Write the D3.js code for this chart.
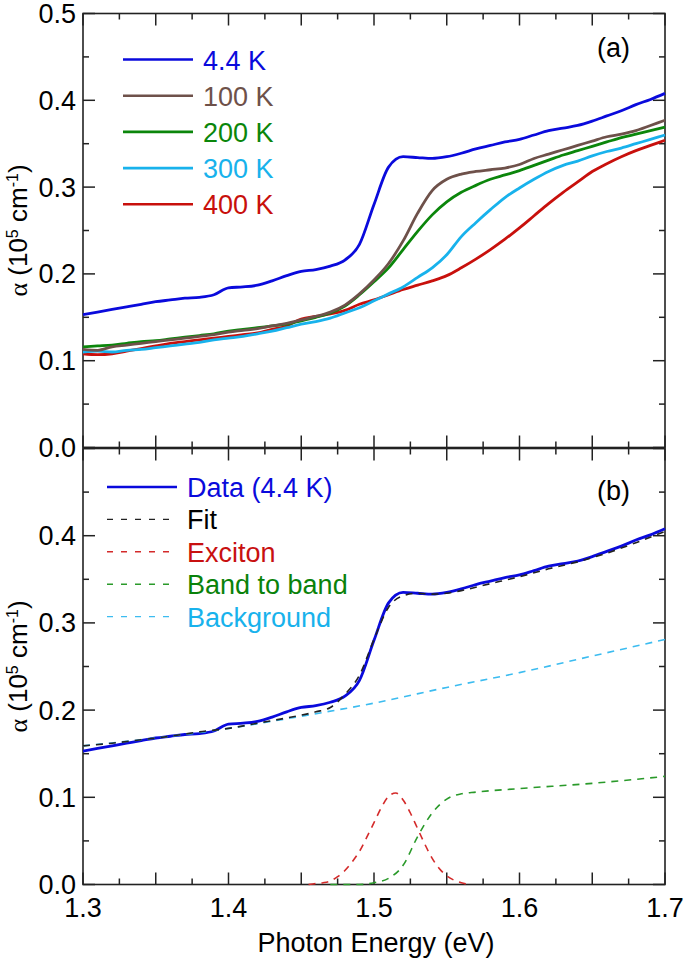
<!DOCTYPE html>
<html>
<head>
<meta charset="utf-8">
<script src="https://cdn.jsdelivr.net/npm/d3@7"></script>
<style>
  html, body { margin: 0; padding: 0; background: #fff; }
  svg { display: block; font-family: "Liberation Sans", Arial, Helvetica, sans-serif; }
</style>
</head>
<body>
<svg id="chart" width="685" height="960"></svg>
<script>
// ---------------- DATA ----------------
const energy = [1.30,1.31,1.32,1.33,1.34,1.35,1.36,1.37,1.38,1.39,1.40,1.41,1.42,1.43,1.44,1.45,1.46,1.47,1.48,1.49,
                1.50,1.51,1.52,1.53,1.54,1.55,1.56,1.57,1.58,1.59,1.60,1.61,1.62,1.63,1.64,1.65,1.66,1.67,1.68,1.69,1.70];

const alpha4K   = [.153,.156,.159,.162,.165,.168,.170,.172,.173,.176,.184,.185,.187,.192,.198,.203,.205,.209,.216,.234,
                   .280,.323,.335,.334,.333,.335,.339,.344,.348,.352,.355,.360,.365,.368,.371,.376,.382,.388,.395,.401,.408];
const alpha100K = [.113,.112,.116,.118,.120,.122,.124,.126,.128,.130,.133,.135,.137,.140,.143,.147,.151,.156,.164,.177,
                   .193,.212,.238,.270,.296,.309,.315,.318,.320,.322,.326,.333,.338,.343,.348,.353,.358,.361,.365,.371,.377];
const alpha200K = [.116,.117,.118,.120,.122,.123,.125,.127,.129,.131,.134,.136,.138,.140,.142,.146,.150,.155,.163,.176,
                   .191,.207,.228,.249,.268,.283,.294,.302,.309,.314,.319,.325,.331,.337,.342,.347,.352,.357,.361,.365,.369];
const alpha300K = [.110,.111,.110,.112,.113,.115,.117,.119,.121,.124,.126,.128,.131,.134,.138,.142,.145,.149,.155,.161,
                   .169,.177,.185,.196,.207,.222,.243,.259,.274,.288,.299,.309,.318,.325,.330,.336,.341,.345,.350,.355,.360];
const alpha400K = [.108,.107,.108,.111,.114,.117,.120,.122,.124,.126,.128,.130,.132,.136,.140,.148,.151,.154,.158,.165,
                   .170,.176,.182,.187,.192,.198,.207,.217,.228,.240,.253,.267,.281,.294,.306,.318,.327,.335,.342,.348,.354];

const seriesNames  = ["4.4 K","100 K","200 K","300 K","400 K"];
const seriesColors = ["#0a0adc","#6e514a","#0b860b","#18b2ec","#c8100c"];

// panel (b) fit components
const fitEnergy = [1.30,1.32,1.34,1.36,1.38,1.40,1.42,1.44,1.46,1.47,1.48,1.49,1.50,1.51,1.52,1.53,1.54,1.55,1.56,1.58,1.60,1.62,1.64,1.66,1.68,1.70];
const fitValues = [.159,.162,.166,.170,.175,.179,.185,.191,.198,.203,.218,.240,.281,.318,.331,.334,.333,.334,.337,.345,.353,.362,.370,.380,.392,.405];

const excEnergy = [1.455,1.46,1.465,1.47,1.475,1.48,1.485,1.49,1.495,1.50,1.505,1.51,1.515,1.52,1.525,1.53,1.535,1.54,1.545,1.55,1.555,1.56,1.565];
const excValues = [.000,.001,.002,.004,.009,.016,.026,.038,.054,.071,.088,.101,.105,.097,.082,.064,.046,.030,.018,.010,.005,.002,.000];

const b2bEnergy = [1.47,1.48,1.49,1.50,1.51,1.52,1.53,1.54,1.55,1.56,1.57,1.60,1.65,1.70];
const b2bValues = [.000,.000,.000,.002,.007,.022,.055,.082,.098,.104,.106,.110,.116,.124];

const bgEnergy = [1.30,1.35,1.40,1.45,1.50,1.55,1.60,1.65,1.70];
const bgValues = [.159,.168,.179,.193,.208,.226,.243,.262,.281];

const legendB = ["Data (4.4 K)","Fit","Exciton","Band to band","Background"];
const legendBLine = ["#0a0adc","#222222","#d42a2a","#2a9a2a","#3cbcf0"];
const legendBText = ["#0a0adc","#000000","#c81010","#0a820a","#18b2ec"];

const xTickLabels = [1.3,1.4,1.5,1.6,1.7];
const yTickLabelsTop = [0.0,0.1,0.2,0.3,0.4,0.5];
const yTickLabelsBot = [0.0,0.1,0.2,0.3,0.4];

// ---------------- LAYOUT ----------------
const svg = d3.select("#chart");
const FS = 27;
const x = d3.scaleLinear().domain([1.3,1.7]).range([83,665]);
const yTop = d3.scaleLinear().domain([0,0.5]).range([447.5,13.5]);
const yBot = d3.scaleLinear().domain([0,0.5]).range([884.5,448.5]);
const frameColor = "#222";

function drawFrame(y, labels) {
  const g = svg.append("g");
  const [y0, y1] = y.range();
  const [x0, x1] = x.range();
  const xMajor = d3.range(1.3, 1.7001, 0.05);
  const xMinor = d3.range(1.325, 1.7, 0.05);
  const yMajor = d3.range(0, 0.5001, 0.1);
  const yMinor = d3.range(0.05, 0.5, 0.1);
  const L = 12, S = 6;
  const tk = [];
  xMajor.forEach(v => { tk.push([x(v), y0, x(v), y0 - L]); tk.push([x(v), y1, x(v), y1 + L]); });
  xMinor.forEach(v => { tk.push([x(v), y0, x(v), y0 - S]); tk.push([x(v), y1, x(v), y1 + S]); });
  yMajor.forEach(v => { tk.push([x0, y(v), x0 + L, y(v)]); tk.push([x1, y(v), x1 - L, y(v)]); });
  yMinor.forEach(v => { tk.push([x0, y(v), x0 + S, y(v)]); tk.push([x1, y(v), x1 - S, y(v)]); });
  g.selectAll("line.tick").data(tk).join("line")
    .attr("x1", d => d[0]).attr("y1", d => d[1]).attr("x2", d => d[2]).attr("y2", d => d[3])
    .attr("stroke", frameColor).attr("stroke-width", 1.5);
  g.append("rect").attr("x", x0).attr("y", y1).attr("width", x1 - x0).attr("height", y0 - y1)
    .attr("fill", "none").attr("stroke", frameColor).attr("stroke-width", 1.6);
  g.selectAll("text.yl").data(labels).join("text")
    .attr("x", x0 - 7).attr("y", d => y(d) + 9.5)
    .attr("text-anchor", "end").attr("font-size", FS).attr("fill", "#000")
    .text(d => d3.format(".1f")(d));
  const cy = (y0 + y1) / 2;
  const t = g.append("text").attr("transform", `translate(27,${cy}) rotate(-90)`)
    .attr("text-anchor", "middle").attr("font-size", 26).attr("fill", "#000");
  t.append("tspan").attr("font-family", "'Liberation Serif', serif").text("α");
  t.append("tspan").text(" (10");
  t.append("tspan").attr("font-size", 16).attr("dy", -9).text("5");
  t.append("tspan").attr("dy", 9).text(" cm");
  t.append("tspan").attr("font-size", 16).attr("dy", -9).text("-1");
  t.append("tspan").attr("dy", 9).text(")");
}

drawFrame(yTop, yTickLabelsTop);
drawFrame(yBot, yTickLabelsBot);

svg.selectAll("text.xl").data(xTickLabels).join("text")
  .attr("x", d => x(d)).attr("y", 917).attr("text-anchor", "middle")
  .attr("font-size", FS).attr("fill", "#000").text(d => d3.format(".1f")(d));
svg.append("text").attr("x", 376).attr("y", 952).attr("text-anchor", "middle")
  .attr("font-size", FS).attr("fill", "#000").text("Photon Energy (eV)");

// ---------------- PANEL (a) ----------------
const allTop = [alpha4K, alpha100K, alpha200K, alpha300K, alpha400K];
const lineTop = d3.line().x((d, i) => x(energy[i])).y(d => yTop(d)).curve(d3.curveMonotoneX);
[4,3,2,1,0].forEach(k => {
  svg.append("path").attr("d", lineTop(allTop[k])).attr("fill", "none")
    .attr("stroke", seriesColors[k]).attr("stroke-width", 2.8).attr("stroke-linejoin", "round");
});
seriesNames.forEach((name, k) => {
  const ly = 59.5 + k * 36.2;
  svg.append("line").attr("x1", 123).attr("x2", 193).attr("y1", ly).attr("y2", ly)
    .attr("stroke", seriesColors[k]).attr("stroke-width", 2.6);
  svg.append("text").attr("x", 203).attr("y", ly + 10).attr("font-size", FS)
    .attr("fill", seriesColors[k]).text(name);
});
svg.append("text").attr("x", 597).attr("y", 57).attr("font-size", FS).attr("fill", "#000").text("(a)");

// ---------------- PANEL (b) ----------------
const lineB = (xs) => d3.line().x((d, i) => x(xs[i])).y(d => yBot(d)).curve(d3.curveMonotoneX);
svg.append("path").attr("d", lineB(energy)(alpha4K)).attr("fill", "none")
  .attr("stroke", "#0a0adc").attr("stroke-width", 2.8);
const dashed = [
  [bgEnergy, bgValues, legendBLine[4]],
  [b2bEnergy, b2bValues, legendBLine[3]],
  [excEnergy, excValues, legendBLine[2]],
  [fitEnergy, fitValues, legendBLine[1]]
];
dashed.forEach(([xs, vs, c]) => {
  svg.append("path").attr("d", lineB(xs)(vs)).attr("fill", "none")
    .attr("stroke", c).attr("stroke-width", 1.6).attr("stroke-dasharray", "7,6");
});
legendB.forEach((name, k) => {
  const ly = 487 + k * 32.4;
  const ln = svg.append("line").attr("x1", 107).attr("x2", 177).attr("y1", ly).attr("y2", ly)
    .attr("stroke", legendBLine[k]);
  if (k === 0) ln.attr("stroke-width", 2.6);
  else ln.attr("stroke-width", 1.4).attr("stroke-dasharray", "6,8");
  svg.append("text").attr("x", 187).attr("y", ly + 10).attr("font-size", FS)
    .attr("fill", legendBText[k]).text(name);
});
svg.append("text").attr("x", 597).attr("y", 500).attr("font-size", FS).attr("fill", "#000").text("(b)");
</script>
</body>
</html>
